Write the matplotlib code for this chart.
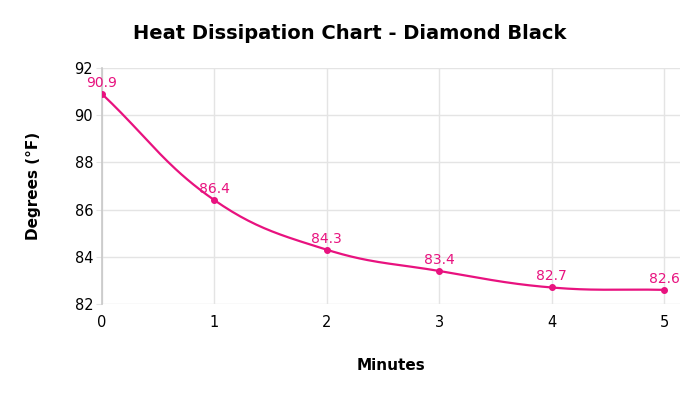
import numpy as np
import matplotlib.pyplot as plt

minutes = [0, 1, 2, 3, 4, 5]
degrees = [90.9, 86.4, 84.3, 83.4, 82.7, 82.6]
yticks = [82, 84, 86, 88, 90, 92]

pink = '#e8127f'
grid_col = '#e4e4e4'


def spline_curve(x, y, sx, sy, tension=0.4, n=40):
    # tension spline (bezier segments), control points computed in pixel space
    px = np.asarray(x, float) * sx
    py = np.asarray(y, float) * sy
    k = len(px)
    c_prev = np.zeros((k, 2))
    c_next = np.zeros((k, 2))
    for i in range(k):
        p0 = np.array([px[max(i - 1, 0)], py[max(i - 1, 0)]])
        p1 = np.array([px[i], py[i]])
        p2 = np.array([px[min(i + 1, k - 1)], py[min(i + 1, k - 1)]])
        d01 = np.hypot(*(p1 - p0))
        d12 = np.hypot(*(p2 - p1))
        tot = d01 + d12
        s01 = d01 / tot if tot else 0
        s12 = d12 / tot if tot else 0
        c_prev[i] = p1 - tension * s01 * (p2 - p0)
        c_next[i] = p1 + tension * s12 * (p2 - p0)
    xs, ys = [], []
    t = np.linspace(0, 1, n)[:, None]
    for i in range(k - 1):
        a = np.array([px[i], py[i]])
        b = c_next[i]
        c = c_prev[i + 1]
        d = np.array([px[i + 1], py[i + 1]])
        pts = (1 - t)**3 * a + 3 * (1 - t)**2 * t * b + 3 * (1 - t) * t**2 * c + t**3 * d
        xs.append(pts[:, 0] / sx)
        ys.append(pts[:, 1] / sy)
    return np.concatenate(xs), np.concatenate(ys)


fig = plt.figure(figsize=(7, 3.94), dpi=100)
ax = fig.add_axes([0.1457, 0.2284, 0.8257, 0.599])

cx, cy = spline_curve(minutes, degrees, 112.4, 23.6)
ax.plot(cx, cy, color=pink, lw=1.6, zorder=3)
ax.plot(minutes, degrees, 'o', color=pink, ms=4, zorder=4)
for x, y in zip(minutes, degrees):
    ax.annotate(f'{y}', (x, y), xytext=(0, 3), textcoords='offset points',
                ha='center', va='bottom', color=pink, fontsize=10)

ax.set_xlim(0, 5.142)
ax.set_ylim(82, 92)
ax.set_xticks(minutes)
ax.set_yticks(yticks)
ax.grid(True, color=grid_col, lw=1)
ax.set_axisbelow(True)
for s in ['top', 'right', 'bottom']:
    ax.spines[s].set_visible(False)
ax.spines['left'].set_color('#c8c8c8')
ax.spines['left'].set_linewidth(1.2)
ax.tick_params(axis='y', length=4.3, color=grid_col, labelsize=10.5, pad=2)
ax.tick_params(axis='x', length=0, labelsize=10.5, pad=8)

fig.suptitle('Heat Dissipation Chart - Diamond Black', x=0.5, y=0.94,
             fontsize=14, fontweight='bold')
ax.set_ylabel('Degrees (°F)', fontsize=11, fontweight='bold', labelpad=24)
ax.set_xlabel('Minutes', fontsize=11, fontweight='bold', labelpad=20)

fig.savefig('out.png', dpi=100)
